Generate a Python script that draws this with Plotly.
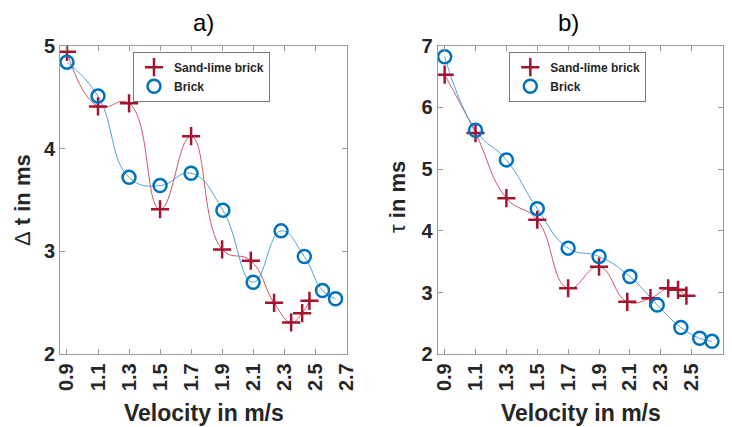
import plotly.graph_objects as go

# ---------------- data ----------------
x_ticks = [0.9, 1.1, 1.3, 1.5, 1.7, 1.9, 2.1, 2.3, 2.5, 2.7]
x_tick_labels = ["0.9", "1.1", "1.3", "1.5", "1.7", "1.9", "2.1", "2.3", "2.5", "2.7"]

# panel a) : Delta t in ms
a_sand_x = [0.9, 1.1, 1.3, 1.5, 1.7, 1.9, 2.085, 2.235, 2.345, 2.416, 2.463]
a_sand_y = [4.94, 4.41, 4.44, 3.41, 4.12, 3.02, 2.91, 2.50, 2.31, 2.40, 2.52]
a_brick_x = [0.9, 1.1, 1.3, 1.5, 1.7, 1.905, 2.1, 2.28, 2.43, 2.547, 2.631]
a_brick_y = [4.84, 4.51, 3.72, 3.64, 3.76, 3.40, 2.70, 3.20, 2.95, 2.62, 2.54]

# panel b) : tau in ms
b_sand_x = [0.9, 1.1, 1.3, 1.5, 1.7, 1.9, 2.083, 2.233, 2.348, 2.412, 2.466]
b_sand_y = [6.53, 5.585, 4.53, 4.18, 3.07, 3.42, 2.85, 2.91, 3.07, 3.045, 2.95]
b_brick_x = [0.9, 1.1, 1.3, 1.5, 1.7, 1.9, 2.1, 2.277, 2.43, 2.552, 2.632]
b_brick_y = [6.82, 5.63, 5.15, 4.36, 3.72, 3.585, 3.26, 2.80, 2.435, 2.26, 2.21]

# ---------------- styles ----------------
RED = "#A2142F"
BLUE = "#0072BD"
RED_LINE = "#C9566F"
BLUE_LINE = "#4FA3DC"
AX = "#9A9A9A"
TXT = "#262626"
FONT = "Liberation Sans, Arial, sans-serif"

fig = go.Figure()

def add_panel(xs, ys, xb, yb, xa, ya, legend):
    fig.add_trace(go.Scatter(x=xs, y=ys, mode="lines", line=dict(color=RED_LINE, width=1, shape="spline", smoothing=1.3),
                             xaxis=xa, yaxis=ya, showlegend=False, hoverinfo="skip"))
    fig.add_trace(go.Scatter(x=xb, y=yb, mode="lines", line=dict(color=BLUE_LINE, width=1, shape="spline", smoothing=1.3),
                             xaxis=xa, yaxis=ya, showlegend=False, hoverinfo="skip"))
    fig.add_trace(go.Scatter(x=xs, y=ys, mode="markers", name="Sand-lime brick",
                             marker=dict(symbol="cross-thin", size=13, line=dict(color=RED, width=2.5), color=RED),
                             xaxis=xa, yaxis=ya, legend=legend))
    fig.add_trace(go.Scatter(x=xb, y=yb, mode="markers", name="Brick",
                             marker=dict(symbol="circle-open", size=13, line=dict(color=BLUE, width=2.5), color=BLUE),
                             xaxis=xa, yaxis=ya, legend=legend))

add_panel(a_sand_x, a_sand_y, a_brick_x, a_brick_y, "x", "y", "legend")
add_panel(b_sand_x, b_sand_y, b_brick_x, b_brick_y, "x2", "y2", "legend2")

W, H = 732, 427
top = 1 - 45.7 / H
bot = 1 - 354.3 / H

xcommon = dict(range=[0.855, 2.705], tickvals=x_ticks, ticktext=x_tick_labels, tickangle=-90,
               ticks="inside", ticklen=5, tickcolor=AX, showline=True, linecolor=AX, linewidth=1,
               mirror="ticks", showgrid=False, zeroline=False, automargin=False,
               tickfont=dict(family=FONT, size=20, color=TXT, weight="bold"))
ycommon = dict(ticks="inside", ticklen=5, tickcolor=AX, showline=True, linecolor=AX, linewidth=1,
               mirror="ticks", showgrid=False, zeroline=False, dtick=1, automargin=False,
               tickfont=dict(family=FONT, size=20, color=TXT, weight="bold"))

legcommon = dict(bgcolor="white", bordercolor="#7A7A7A", borderwidth=1, xanchor="left", yanchor="top",
                 font=dict(family=FONT, size=12, color=TXT, weight="bold"),
                 tracegroupgap=0, itemwidth=30)

ann = dict(xref="paper", yref="paper", showarrow=False, xanchor="center", yanchor="middle")

fig.update_layout(
    width=W, height=H, margin=dict(l=0, r=0, t=0, b=0, autoexpand=False),
    paper_bgcolor="white", plot_bgcolor="white",
    xaxis=dict(domain=[60 / W, 347 / W], anchor="y", **xcommon),
    yaxis=dict(domain=[bot, top], anchor="x", range=[2, 5], **ycommon),
    xaxis2=dict(domain=[437.7 / W, 723.3 / W], anchor="y2", **xcommon),
    yaxis2=dict(domain=[bot, top], anchor="x2", range=[2, 7], **ycommon),
    legend=dict(x=133 / W, y=1 - 51.7 / H, **legcommon),
    legend2=dict(x=509.3 / W, y=1 - 51.7 / H, **legcommon),
    annotations=[
        dict(text="a)", x=203.5 / W, y=1 - 23 / H, font=dict(family=FONT, size=24, color="black"), **ann),
        dict(text="b)", x=568 / W, y=1 - 23 / H, font=dict(family=FONT, size=24, color="black"), **ann),
        dict(text="<b>Velocity in m/s</b>", x=203.5 / W, y=1 - 413 / H,
             font=dict(family=FONT, size=23, color=TXT), **ann),
        dict(text="<b>Velocity in m/s</b>", x=580.5 / W, y=1 - 413 / H,
             font=dict(family=FONT, size=23, color=TXT), **ann),
        dict(text="Δ<b> t in ms</b>", x=22 / W, y=1 - 200 / H, textangle=-90,
             font=dict(family=FONT, size=22, color=TXT), **ann),
        dict(text="τ<b> in ms</b>", x=397 / W, y=1 - 197 / H, textangle=-90,
             font=dict(family=FONT, size=22, color=TXT), **ann),
    ],
)

fig.write_html("out.html")
